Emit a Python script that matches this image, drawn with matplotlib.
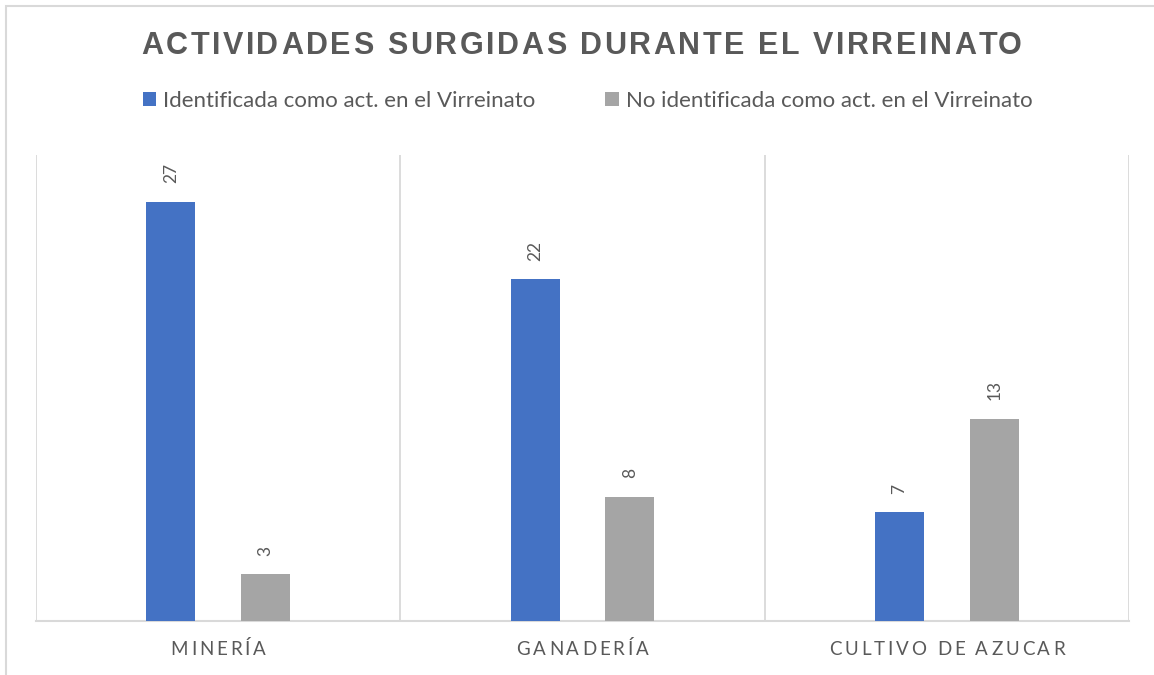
import matplotlib.pyplot as plt
import numpy as np
from matplotlib.patches import Rectangle

# datos de la encuesta
categorias = ["MINERÍA", "GANADERÍA", "CULTIVO DE AZUCAR"]
identificada = [27, 22, 7]
no_identificada = [3, 8, 13]
series = ["Identificada como act. en el Virreinato",
          "No identificada como act. en el Virreinato"]
titulo = "ACTIVIDADES SURGIDAS DURANTE EL VIRREINATO"

azul = "#4472C4"
gris = "#A5A5A5"
texto = "#595959"
lineas = "#D9D9D9"

W, H = 1154, 675
fig = plt.figure(figsize=(W / 100, H / 100), dpi=100)
ax = fig.add_axes([36 / W, 1 - 621 / H, (1129 - 36) / W, (621 - 155) / H])


def texto_espaciado(x_px, y_px, s, track, **kw):
    # dibuja un texto letra por letra con espaciado extra (en px), centrado en x_px
    r = fig.canvas.get_renderer()

    def ancho(cad):
        t = fig.text(0, 0, cad, **kw)
        w = t.get_window_extent(r).width
        t.remove()
        return w

    ref = ancho("|")
    total = ancho(s) + track * (len(s) - 1)
    x0 = x_px - total / 2
    for i, ch in enumerate(s):
        if ch == " ":
            continue
        dx = ancho(s[:i] + "|") - ref + i * track
        fig.text((x0 + dx) / W, 1 - y_px / H, ch, ha="left", va="baseline", **kw)


x = np.arange(len(categorias))
w = 0.1345
b1 = ax.bar(x - 0.13, identificada, w, color=azul, label=series[0], zorder=3)
b2 = ax.bar(x + 0.13, no_identificada, w, color=gris, label=series[1], zorder=3)

for barras in (b1, b2):
    for rect in barras:
        v = rect.get_height()
        ax.annotate(f"{v:g}", (rect.get_x() + rect.get_width() / 2, v),
                    xytext=(0, 13.5), textcoords="offset points",
                    ha="center", va="bottom", rotation=90,
                    fontsize=12.5, family="Lato", color=texto)

ax.set_xlim(-0.5, 2.5)
ax.set_ylim(0, 30)
for xv in np.arange(-0.5, 3, 1):
    ax.axvline(xv, color=lineas, lw=1.3, zorder=1)
for lado in ("top", "right", "left"):
    ax.spines[lado].set_visible(False)
ax.spines["bottom"].set_color(lineas)
ax.spines["bottom"].set_linewidth(1.5)
ax.set_xticks([])
ax.set_yticks([])

# etiquetas de categoria espaciadas
fig.canvas.draw()
for i, cat in enumerate(categorias):
    xp = ax.transData.transform((i, 0))[0]
    texto_espaciado(xp, 655, cat, 2.9, fontsize=13.5, family="Lato", color=texto)

# titulo
texto_espaciado(581, 54, titulo, 2.6, fontsize=22, family="Liberation Sans",
                weight="bold", color=texto)

fig.legend(handles=[b1, b2], labels=series, loc="center",
           bbox_to_anchor=(587.5 / W, 1 - 101 / H), ncol=2, frameon=False,
           prop={"family": "Lato", "size": 16}, labelcolor=texto,
           handlelength=0.62, handleheight=0.62, handletextpad=0.3,
           columnspacing=3.15)

# marco exterior
fig.add_artist(Rectangle((6 / W, -0.1), 1.2, (H - 6) / H + 0.1, fill=False,
                         edgecolor=lineas, lw=1.5, transform=fig.transFigure))

fig.savefig("out.png", dpi=100)
